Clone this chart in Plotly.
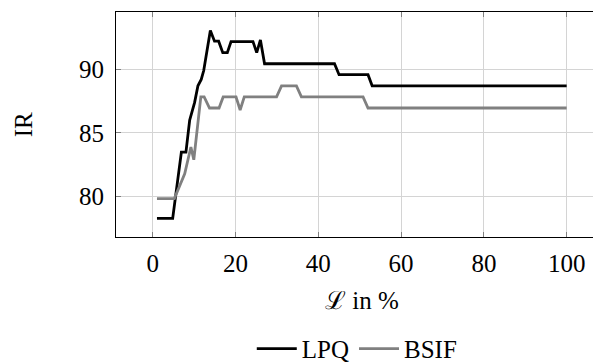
import plotly.graph_objects as go

# LPQ curve vertices (L in %, IR)
lpq_x = [1, 4.8, 6.9, 8.0, 8.9, 9.3, 10.1, 10.9, 11.7, 12.3, 13.9, 14.9, 15.9, 16.9, 18.0, 18.9,
         24.2, 25.1, 26.0, 27.0, 43.9, 45.0, 52.0, 53.0, 100]
lpq_y = [78.3, 78.3, 83.5, 83.5, 86.0, 86.5, 87.4, 88.7, 89.2, 89.9, 93.04, 92.2, 92.2, 91.3, 91.3, 92.17,
         92.17, 91.3, 92.3, 90.43, 90.43, 89.57, 89.57, 88.7, 88.7]

# BSIF curve vertices
bsif_x = [1, 5.2, 7.7, 9.2, 9.9, 11.6, 12.4, 13.7, 16.0, 17.0, 20.1, 21.1, 22.1, 29.9, 31.1,
          34.7, 35.9, 50.8, 52.0, 100]
bsif_y = [79.85, 79.85, 81.8, 83.9, 82.9, 87.83, 87.83, 86.96, 86.96, 87.83, 87.83, 86.8, 87.83, 87.83, 88.7,
          88.7, 87.83, 87.83, 86.96, 86.96]

x_ticks = [0, 20, 40, 60, 80, 100]
y_ticks = [80, 85, 90]

FONT = "Liberation Serif, Times New Roman, serif"
FS = 25

fig = go.Figure()
fig.add_trace(go.Scatter(x=lpq_x, y=lpq_y, mode="lines", name="LPQ",
                         line=dict(color="black", width=2.8)))
fig.add_trace(go.Scatter(x=bsif_x, y=bsif_y, mode="lines", name="BSIF",
                         line=dict(color="#808080", width=2.8)))

fig.update_layout(
    width=593, height=355,
    margin=dict(l=108, r=0, t=4, b=126, autoexpand=False),
    paper_bgcolor="white", plot_bgcolor="white",
    font=dict(family=FONT, size=FS, color="black"),
    showlegend=True,
    legend=dict(orientation="h", xref="container", yref="container",
                x=0.589, xanchor="center", y=0.04, yanchor="middle",
                font=dict(family=FONT, size=FS, color="black"),
                bgcolor="rgba(0,0,0,0)", itemwidth=40, tracegroupgap=0),
    annotations=[
        dict(text="IR", textangle=-90, xref="paper", yref="paper", x=-0.19, y=0.5,
             xanchor="center", yanchor="middle", showarrow=False,
             font=dict(family=FONT, size=FS, color="black")),
        dict(text="ℒ in %", xref="x", yref="paper", x=50.5, y=-0.28,
             xanchor="center", yanchor="middle", showarrow=False,
             font=dict(family=FONT, size=FS, color="black")),
    ],
)

fig.update_xaxes(range=[-8.9, 108.3], tickvals=x_ticks, ticktext=[str(v) for v in x_ticks],
                 showline=True, linecolor="black", linewidth=1, mirror="ticks",
                 ticks="inside", ticklen=5, tickcolor="#808080", tickwidth=1,
                 showgrid=True, gridcolor="#d4d4d4", gridwidth=1, zeroline=False,
                 ticklabelstandoff=4, automargin=False)
fig.update_yaxes(range=[76.84, 94.49], tickvals=y_ticks, ticktext=[str(v) for v in y_ticks],
                 showline=True, linecolor="black", linewidth=1, mirror=False,
                 ticks="inside", ticklen=5, tickcolor="#808080", tickwidth=1,
                 showgrid=True, gridcolor="#d4d4d4", gridwidth=1, zeroline=False,
                 ticklabelstandoff=6, automargin=False)

fig.write_html("out.html")
